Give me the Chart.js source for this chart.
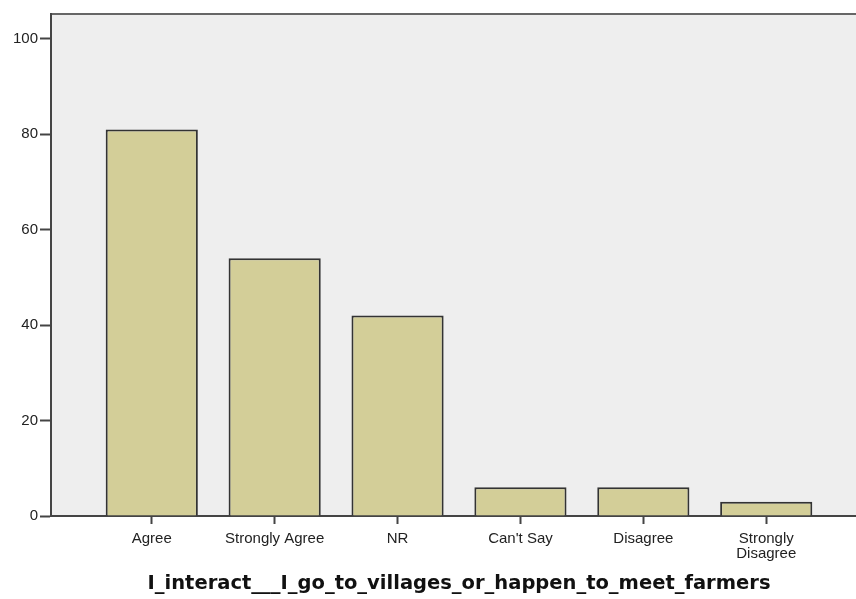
<!DOCTYPE html>
<html>
<head>
<meta charset="utf-8" />
<title>I_interact chart</title>
<script src="https://cdn.jsdelivr.net/npm/chart.js@4"></script>
<style>
	html, body { margin: 0; padding: 0; overflow: hidden; background: #fff; }
	#wrap { width: 880px; height: 599px; }
</style>
</head>
<body>
<div id="wrap"><canvas id="barChart" width="880" height="599"></canvas></div>
<script>
	// categories and counts
	const categories = ['Agree', 'Strongly Agree', 'NR', "Can't Say", 'Disagree', ['Strongly', 'Disagree']];
	const counts = [81, 54, 42, 6, 6, 3];
	const yTicks = [0, 20, 40, 60, 80, 100];
	const xTitle = 'I_interact___I_go_to_villages_or_happen_to_meet_farmers';

	const plotBackground = {
		id: 'plotBackground',
		beforeDraw(chart) {
			const { ctx, chartArea: a } = chart;
			ctx.save();
			ctx.fillStyle = '#eeeeee';
			ctx.fillRect(a.left, a.top, a.right - a.left, a.bottom - a.top);
			ctx.strokeStyle = '#666666';
			ctx.lineWidth = 2;
			ctx.beginPath();
			ctx.moveTo(a.left, a.top);
			ctx.lineTo(a.right, a.top);
			ctx.stroke();
			ctx.restore();
		}
	};

	const tickFont = { family: '"Liberation Sans", Arial, sans-serif', size: 15, lineHeight: 1 };

	new Chart(document.getElementById('barChart').getContext('2d'), {
		type: 'bar',
		data: {
			datasets: [{
				data: counts.map((v, i) => ({ x: i, y: v })),
				backgroundColor: '#d3ce98',
				borderColor: '#333333',
				borderWidth: 2,
				borderSkipped: 'bottom',
				barPercentage: 0.75,
				categoryPercentage: 1
			}]
		},
		options: {
			responsive: false,
			animation: false,
			layout: { padding: { top: 14, right: 13, left: 0, bottom: 0 } },
			plugins: { legend: { display: false }, tooltip: { enabled: false } },
			scales: {
				x: {
					type: 'linear',
					min: -0.82,
					max: 5.82,
					offset: false,
					afterFit(scale) { scale.height = 83; },
					afterBuildTicks(scale) { scale.ticks = categories.map((c, i) => ({ value: i })); },
					grid: { display: true, drawOnChartArea: false, offset: false, tickLength: 8, tickColor: '#444', tickWidth: 2 },
					border: { display: true, color: '#444', width: 2 },
					ticks: {
						color: '#222',
						font: tickFont,
						padding: 7,
						maxRotation: 0,
						autoSkip: false,
						callback: (v) => categories[v]
					},
					title: {
						display: true,
						text: xTitle,
						color: '#111',
						font: { family: '"DejaVu Sans", sans-serif', size: 19.5, weight: 'bold' },
						padding: { top: 0, bottom: 3 }
					}
				},
				y: {
					min: 0,
					max: 105.2,
					afterFit(scale) { scale.width = 51; },
					afterBuildTicks(scale) { scale.ticks = yTicks.map(v => ({ value: v })); },
					grid: { display: true, drawOnChartArea: false, tickLength: 11, tickColor: '#444', tickWidth: 2 },
					border: { display: true, color: '#444', width: 2 },
					ticks: { color: '#222', font: tickFont, padding: 2 }
				}
			}
		},
		plugins: [plotBackground]
	});
</script>
</body>
</html>
